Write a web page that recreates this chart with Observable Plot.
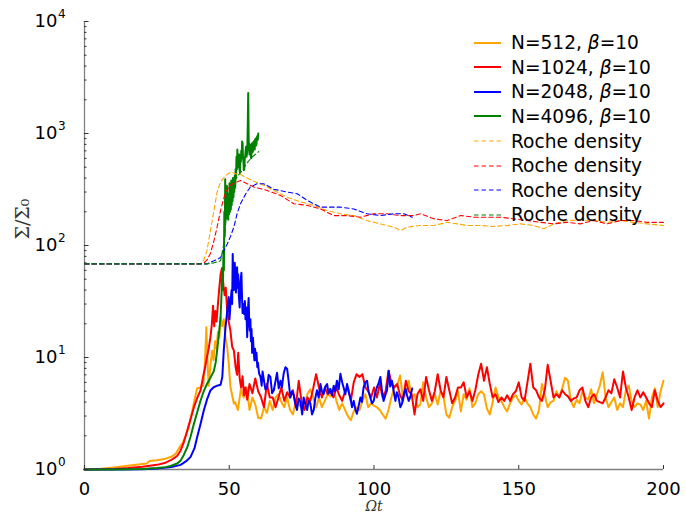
<!DOCTYPE html>
<html><head><meta charset="utf-8">
<script src="https://cdn.jsdelivr.net/npm/d3@7"></script>
<script src="https://cdn.jsdelivr.net/npm/@observablehq/plot@0.6"></script>
<style>
body{margin:0;background:#fff;}
#wrap{position:relative;width:686px;height:515px;overflow:hidden;background:#fff;}
#wrap svg.plot{position:absolute;left:0;top:0;}
#legend{position:absolute;left:474px;top:30.2px;font-family:"DejaVu Sans";font-size:18.6px;color:#000;z-index:2;}
.row{height:24.64px;display:flex;align-items:center;white-space:nowrap;}
.row svg{margin-right:10px;}
</style></head><body><div id="wrap"><div id="legend"></div></div>
<script>
// ---- data ----
const xTicks = [0, 50, 100, 150, 200];
const yMajor = [1, 10, 100, 1000, 10000];
const yMinor = [2,3,4,5,6,7,8,9,20,30,40,50,60,70,80,90,200,300,400,500,600,700,800,900,2000,3000,4000,5000,6000,7000,8000,9000];

const seriesColors = ["#FFA500", "#FF0000", "#0000FF", "#008000"];
const legendNames = ["N=512", "N=1024", "N=2048", "N=4096"];
const legendBeta = "=10";
const rocheLabel = "Roche density";

// N=512 (orange): early phase as [t, value]; tail sampled at unit steps from t=52
const n512Early = [[0,1.0],[5,1.01],[10,1.04],[15,1.08],[20,1.12],[21.5,1.13],[22.5,1.19],[25,1.21],[28,1.25],[30,1.3],[31.5,1.38],[33,1.6],[34,1.75],[35,2.0],[36,2.4],[37,3.1],[38,4.2],[38.9,5.3],[40,5.4],[41,5.6],[41.6,9],[42.1,18.6],[42.5,9],[42.9,5.6],[43.5,8.5],[44.1,11.5],[44.6,9.5],[45.1,14],[45.6,12],[46.1,17],[46.6,15],[47,22.9],[47.5,19],[48.1,22],[48.7,15],[49.3,12.3],[49.8,9],[50.4,5.5],[51,4.6],[51.6,3.86]];
const n512TailStart = 52;
const n512Tail = [
  4.0,3.4,5.2,4.4,5.4,3.4,4.4,3.8,2.9,2.85,
  3.6,3.2,4.1,3.4,4.4,4.7,4.0,3.6,4.4,3.4,
  3.1,4.1,3.8,3.6,3.9,4.7,5.2,4.4,3.6,4.4,
  3.6,4.1,4.7,4.5,5.4,4.1,3.4,3.9,3.4,3.0,
  2.75,3.3,3.6,3.4,4.1,4.7,3.6,3.9,3.7,3.6,
  3.4,3.1,2.85,3.4,4.4,5.4,5.6,6.9,4.4,4.7,
  6.2,4.4,4.7,3.6,3.8,6.0,4.4,3.6,3.9,4.7,
  3.8,5.0,4.5,3.1,2.9,3.6,4.1,5.0,3.3,4.7,
  4.2,5.3,3.6,3.9,4.7,5.0,4.7,3.5,3.1,4.0,
  5.4,4.4,4.1,3.6,3.3,3.9,4.4,4.6,4.1,3.8,
  4.4,3.9,3.6,3.1,2.85,3.4,5.8,4.6,3.6,4.0,
  4.1,5.0,4.4,5.3,6.6,6.2,4.1,3.6,4.2,3.9,
  5.0,4.4,4.2,5.2,3.9,4.7,5.6,7.4,4.4,3.6,
  4.0,4.4,3.4,3.9,3.6,5.1,5.6,4.1,3.6,3.9,
  3.8,3.4,4.1,2.85,4.4,5.3,3.6,5.0,6.2];

// N=1024 (red)
const n1024Early = [[0,1.0],[10,1.01],[15,1.03],[20,1.06],[25,1.1],[28,1.15],[30,1.22],[32,1.32],[33.2,1.48],[34.3,1.75],[35.5,2.23],[36.6,2.8],[37.8,3.6],[39,4.4],[40.1,5.1],[41,6.8],[41.6,8],[42.3,10.1],[42.9,12],[43.5,15.2],[44,20],[44.4,29],[44.8,19],[45.2,26],[45.6,21],[46,28],[46.5,40],[47,55],[47.5,63],[48,44],[48.4,36],[48.8,42],[49.3,26],[49.8,21],[50.4,17.4],[51,12.5],[51.6,11.5],[52.2,8.2],[52.7,7],[53.1,11],[53.6,6.5],[54.1,5.4],[54.6,6.8],[55.1,4.6],[55.6,5.4],[56.2,4.2]];
const n1024TailStart = 57;
const n1024Tail = [
  5.8,4.8,6.5,5.0,4.4,3.6,5.8,4.4,4.4,3.6,
  4.4,5.4,4.1,4.9,4.4,5.1,3.6,6.2,4.0,3.4,
  4.4,4.1,5.3,7.1,5.4,4.4,5.4,4.7,5.0,4.4,
  5.4,4.6,4.1,5.0,5.4,4.1,6.0,7.1,6.7,7.1,
  5.4,5.0,4.4,5.4,4.4,5.8,4.4,5.0,7.6,6.0,
  5.4,5.8,4.6,4.1,6.2,5.0,4.7,3.1,4.7,5.2,
  4.1,6.7,5.1,4.1,5.0,7.1,5.1,4.4,6.7,5.1,
  3.9,4.4,5.4,5.4,6.0,4.4,5.0,4.1,5.1,7.0,
  8.8,6.2,8.2,5.8,4.4,4.7,4.0,4.4,4.1,4.6,
  4.1,4.7,5.0,6.0,4.4,4.1,6.0,8.8,5.4,5.1,
  4.4,4.1,5.1,8.6,6.2,4.4,4.7,4.4,5.1,4.7,
  4.5,4.1,4.3,4.4,5.1,5.4,4.1,3.6,4.4,4.7,
  4.1,4.0,3.9,4.4,5.1,4.8,6.4,5.4,4.4,7.5,
  5.4,4.4,3.4,4.4,5.1,4.4,4.9,4.4,3.9,3.6,
  5.1,4.1,3.6,3.9];

// N=2048 (blue)
const n2048 = [[0,1.0],[10,1.0],[20,1.005],[25,1.02],[30,1.05],[33.2,1.1],[35,1.18],[36.6,1.29],[38,1.55],[38.9,1.94],[40,2.5],[41.2,3.36],[42.3,4.2],[43.5,5.08],[44.5,5.4],[45.8,5.6],[47,5.7],[47.6,6.7],[48.1,11.5],[48.7,18.6],[49.3,26],[49.8,34.6],[50.1,22],[50.4,30],[50.8,40],[51,30],[51.2,84],[51.4,50],[51.6,40],[51.9,70],[52.1,55],[52.3,38],[52.5,45],[52.7,64],[52.9,42],[53.1,55],[53.3,36],[53.6,28],[53.9,48],[54.2,57],[54.4,35],[54.6,25],[54.9,30],[55.1,24.5],[55.4,32],[55.6,22],[55.9,28],[56.2,15.2],[56.4,25],[56.7,34],[56.9,20],[57.1,17.4],[57.3,22],[57.5,14],[57.7,18],[57.9,11],[58.2,15],[58.4,12],[58.7,9.4],[58.9,12],[59.2,9.5],[59.4,11],[59.7,8.2],[59.9,9],[60.3,7.2],[60.8,6.7],[61.2,5.6],[61.5,7.5],[62,6.2],[62.5,5.2],[63.1,5.4],[63.6,7],[64.2,6.7],[64.8,4.8],[65.4,5.1],[66,6.2],[66.5,7.3],[67.1,5.3],[67.7,6.2],[68.2,5.4],[68.8,7.2],[69.4,8.2],[70,7.9],[70.5,6.2],[71.1,4.4],[71.7,5.0],[72.3,4.6],[72.9,3.8],[73.4,3.4],[74,4.3],[74.6,4.0],[75.2,3.1],[75.7,4.4],[76.3,3.8],[76.9,3.4],[77.4,4.1],[78,3.9],[78.6,3.1],[79.2,3.4],[79.7,4.3],[80.3,5.1],[80.9,4.4],[81.5,5.8],[82,5.0],[82.6,4.7],[83.2,5.5],[83.8,5.8],[84.3,4.8],[84.9,5.25],[85.5,4.6],[86.1,5.6],[86.6,5.0],[87.2,6.2],[87.8,5.2],[88.4,7.15],[89,6.0],[89.5,5.4],[90.1,4.7],[90.7,5.8],[91.2,5.0],[91.8,4.4],[92.4,3.6],[93,4.1],[93.5,3.5],[94.1,3.14],[94.7,3.7],[95.3,4.4],[95.8,4.0],[96.4,5.4],[97,6.0],[97.6,6.2],[98.1,5.0],[98.7,4.4],[99.3,3.9],[99.9,4.1],[100.4,4.8],[101,5.4],[101.6,5.9],[102.2,6.7],[102.7,5.2],[103.3,4.1],[103.9,4.6],[104.5,5.1],[105.1,7.6],[105.6,5.5],[106.2,6.2],[106.8,5.0],[107.4,4.1],[107.9,4.9],[108.5,4.4],[109.1,3.6],[109.7,3.9],[110.3,4.7],[110.9,5.25],[111.4,4.6],[112,4.1],[112.6,4.5],[113.2,5.3]];

// N=4096 (green)
const n4096 = [[0,1.0],[10,1.0],[20,1.01],[25,1.03],[28,1.05],[30,1.08],[32,1.13],[33.2,1.2],[34.3,1.35],[35.5,1.58],[36.6,1.95],[37.8,2.56],[39,3.3],[40.1,4.13],[41.2,5.0],[42.3,5.8],[43.5,6.6],[44.7,7.6],[45.3,9],[45.8,11.5],[46.4,16],[47,22.9],[47.3,35],[47.6,60],[47.8,40],[48,90],[48.15,60],[48.3,200],[48.45,120],[48.6,390],[48.75,170],[48.9,300],[49.05,175],[49.2,340],[49.35,190],[49.5,260],[49.65,170],[49.8,290],[49.95,190],[50.1,360],[50.25,200],[50.4,330],[50.55,210],[50.7,380],[50.85,230],[51,360],[51.15,250],[51.3,400],[51.45,270],[51.6,380],[51.75,300],[51.9,420],[52.05,330],[52.2,480],[52.35,400],[52.5,620],[52.65,480],[52.8,720],[52.95,560],[53.1,500],[53.25,640],[53.4,650],[53.55,480],[53.7,450],[53.85,600],[54,560],[54.15,700],[54.3,640],[54.45,850],[54.6,820],[54.75,600],[54.9,560],[55.05,470],[55.2,480],[55.35,600],[55.5,620],[55.65,700],[55.8,760],[55.95,620],[56.1,650],[56.25,760],[56.4,1200],[56.55,2300],[56.7,900],[56.85,720],[57,650],[57.15,800],[57.3,780],[57.45,620],[57.6,600],[57.75,760],[57.9,820],[58.05,680],[58.2,700],[58.35,840],[58.5,850],[58.65,740],[58.8,720],[58.95,880],[59.1,900],[59.25,780],[59.4,800],[59.55,920],[59.7,950],[59.85,880],[60,1000]];

// Roche density (dashed)
const roche512 = [[0,68.5],[40,68.5],[41.2,74],[42.3,90],[43.5,136],[44.7,205],[45.8,300],[47,370],[48.7,420],[50.4,452],[52,440],[53.9,430],[56.2,400],[58.5,375],[60.8,356],[65.4,310],[70,270],[74.6,245],[79.2,228],[83.8,205],[88.4,192],[93,185],[97.6,167],[102.2,156],[106.8,146],[109.2,136],[111.5,146],[116.1,151],[120.7,151],[125.3,161],[128.8,156],[132.2,151],[136.8,151],[141.4,148],[146,151],[150.6,156],[155,151],[158.7,141],[162.1,156],[166.7,167],[171.3,169],[175.9,167],[180.5,161],[185.1,167],[189.7,161],[194.4,156],[200,151]];
const roche1024 = [[0,68.5],[40,68.5],[41.2,70],[42.3,74],[43.5,85],[44.7,110],[45.8,146],[47,205],[48.7,300],[50.4,345],[51.6,360],[53.9,380],[56.2,356],[58.5,333],[63.1,310],[67.7,280],[72.3,236],[77,228],[81.5,212],[86.1,185],[90.7,185],[95.3,179],[99.9,192],[104.5,192],[109.1,185],[113.8,185],[116.1,192],[120.7,173],[125.3,167],[129.9,185],[134.5,179],[139.1,179],[143.7,179],[148.3,173],[152.9,167],[157.5,161],[162.1,156],[166.7,161],[171.3,156],[175.9,167],[180.5,156],[185.1,167],[189.7,167],[194.4,161],[200,161]];
const roche2048 = [[0,68.5],[42.3,68.5],[44.7,73],[47,78],[49.3,103],[50.4,120],[51.6,146],[52.7,192],[53.9,236],[55.7,290],[57.3,333],[59.6,356],[61.9,356],[65.4,318],[70,300],[73.5,290],[77,252],[81.5,220],[85,220],[88.4,220],[93,212],[97.6,192],[102.2,185],[106.8,192],[110.3,192],[113.2,179]];
const roche4096 = [[0,68.5],[42.3,68.5],[44.7,70],[47,73],[48,100],[49,180],[50,260],[51,330],[52,380],[53,420],[54,450],[55,490],[56,540],[57,580],[58,620],[59,650],[60.2,690]];

// ---- build ----
const toRows = pairs => pairs.map(([t, v]) => ({t, v}));
const withTail = (early, start, tail) => toRows(early).concat(tail.map((v, i) => ({t: start + i, v})));

const solidData = [
  withTail(n512Early, n512TailStart, n512Tail),
  withTail(n1024Early, n1024TailStart, n1024Tail),
  toRows(n2048),
  toRows(n4096)
];
const dashedData = [roche512, roche1024, roche2048, roche4096].map(toRows);

const solid = (data, i) => Plot.line(data, {x: "t", y: "v", stroke: seriesColors[i], strokeWidth: 2, strokeLinejoin: "round"});
const dashed = (data, i) => Plot.line(data, {x: "t", y: "v", stroke: seriesColors[i], strokeWidth: 1.1, strokeDasharray: "4.5,3"});

const chart = Plot.plot({
  width: 686, height: 515,
  marginLeft: 84, marginRight: 23, marginTop: 21, marginBottom: 46,
  style: {fontFamily: "DejaVu Sans", background: "white", color: "#000", overflow: "hidden"},
  x: {domain: [0, 200]},
  y: {type: "log", domain: [1, 10000]},
  marks: [
    Plot.ruleX([0], {stroke: "#808080", strokeWidth: 1.3}),
    Plot.ruleY([1], {stroke: "#808080", strokeWidth: 1.3}),
    ...solidData.map(solid),
    ...dashedData.map(dashed),
    Plot.axisX({ticks: xTicks, tickSize: -4, fill: "none", stroke: "#333", label: null}),
    Plot.axisX({ticks: xTicks, tickSize: 0, tickPadding: 13, fontSize: 18, fill: "#000", tickFormat: d => String(d), label: null}),
    Plot.axisY({ticks: yMajor, tickSize: -4.5, fill: "none", stroke: "#333", label: null}),
    Plot.axisY({ticks: yMinor, tickSize: -2.5, fill: "none", stroke: "#333", label: null}),
    Plot.axisY({ticks: yMajor, tickSize: 0, tickPadding: 27, fontSize: 18, fill: "#000", tickFormat: () => "10", label: null}),
    Plot.axisY({ticks: yMajor, tickSize: 0, tickPadding: 26.5, textAnchor: "start", dy: -7, fontSize: 12, fill: "#000", tickFormat: d => String(Math.round(Math.log10(d))), label: null}),
    Plot.text(["Σ/Σ₀"], {frameAnchor: "left", dx: -62, dy: -6, rotate: -90, fontSize: 19, fontFamily: "DejaVu Serif", fill: "#333"}),
    Plot.text(["Ωt"], {frameAnchor: "bottom", dy: 32, lineAnchor: "top", fontSize: 14, fontFamily: "DejaVu Serif", fontStyle: "italic", fill: "#333"})
  ]
});
chart.classList.add("plot");
const wrap = document.getElementById("wrap");
wrap.insertBefore(chart, wrap.firstChild);

// legend
const legend = d3.select("#legend");
const addRow = (color, dash, html) => {
  const row = legend.append("div").attr("class", "row");
  const sw = row.append("svg").attr("width", 27).attr("height", 4);
  sw.append("line").attr("x1", 0).attr("x2", 27).attr("y1", 2).attr("y2", 2)
    .attr("stroke", color).attr("stroke-width", dash ? 1.1 : 2)
    .attr("stroke-dasharray", dash ? "4.5,3" : null);
  row.append("span").html(html);
};
legendNames.forEach((n, i) => addRow(seriesColors[i], false, `${n}, <i>β</i>${legendBeta}`));
seriesColors.forEach(c => addRow(c, true, rocheLabel));
</script></body></html>
